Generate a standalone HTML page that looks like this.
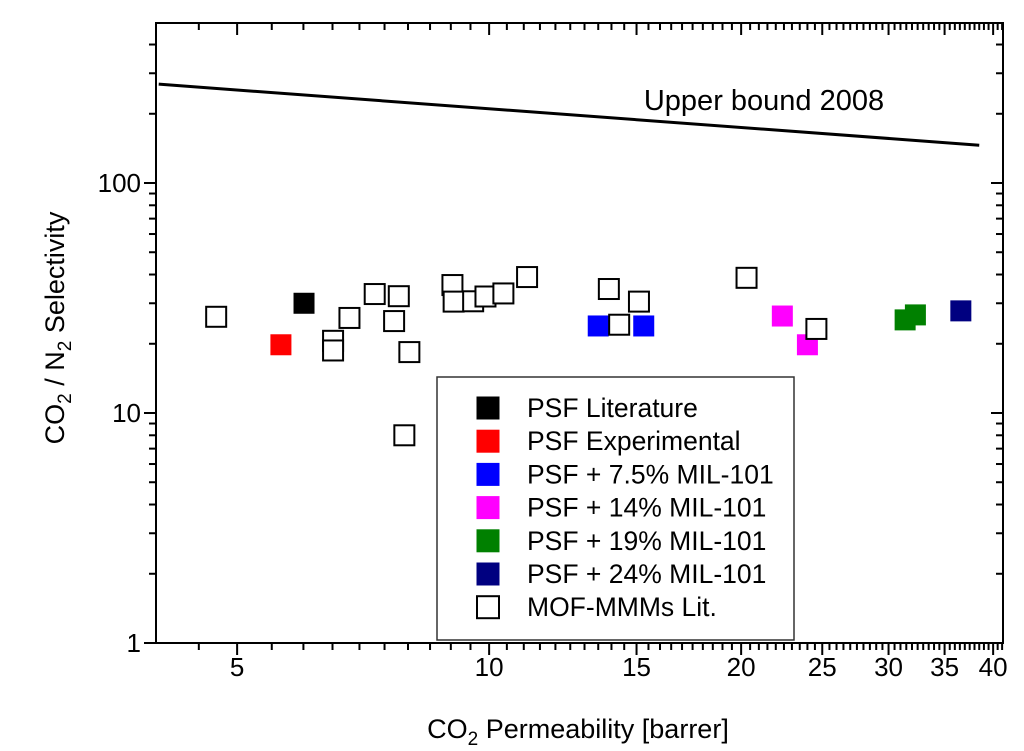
<!DOCTYPE html>
<html><head><meta charset="utf-8"><style>
html,body{margin:0;padding:0;background:#fff;}
svg{display:block;font-family:"Liberation Sans",Arial,sans-serif;}
</style></head><body>
<svg id="chart" width="1024" height="751" viewBox="0 0 1024 751"></svg>
<script>
const xTickLabels=[5,10,15,20,25,30,35,40];
const yTickLabels=[1,10,100];
const boundX=[4.03,38.5];
const boundY=[269,146];
const seriesNames=["PSF Literature","PSF Experimental","PSF + 7.5% MIL-101","PSF + 14% MIL-101","PSF + 19% MIL-101","PSF + 24% MIL-101","MOF-MMMs Lit."];
const seriesColors=["#000000","#ff0000","#0000ff","#ff00ff","#008000","#000080","none"];
const litX=[6.01];const litY=[30];
const expX=[5.64];const expY=[19.8];
const m75X=[13.5,15.3];const m75Y=[23.9,23.9];
const m14X=[22.4,24.0];const m14Y=[26.4,19.8];
const m19X=[31.4,32.3];const m19Y=[25.4,26.7];
const m24X=[36.6];const m24Y=[27.8];
const mofX=[4.72,6.51,6.51,6.81,7.3,7.7,7.8,8.03,7.92,9.04,9.07,9.57,9.9,10.4,11.1,13.9,14.3,15.1,20.3,24.6];
const mofY=[26.2,20.6,18.7,25.9,32.9,25.1,32.2,18.4,8.0,36.0,30.5,30.6,32.1,33.1,39.0,34.6,24.2,30.5,38.7,23.2];

const NS="http://www.w3.org/2000/svg";
const svg=document.getElementById('chart');
const L=156,R=1003,T=23,B=643;
const xmin=4,xmax=41.1,ymin=1,ymax=10**((643-23)/230);
function xs(v){return L+(Math.log10(v)-Math.log10(xmin))/(Math.log10(xmax)-Math.log10(xmin))*(R-L);}
function ys(v){return B-(Math.log10(v)-Math.log10(ymin))/(Math.log10(ymax)-Math.log10(ymin))*(B-T);}
function mk(tag,attrs,parent){const e=document.createElementNS(NS,tag);for(const k in attrs)e.setAttribute(k,attrs[k]);(parent||svg).appendChild(e);return e;}

const axes=mk('g',{});


const frame=mk('rect',{x:L,y:T,width:R-L,height:B-T,fill:'none',stroke:'#000','stroke-width':2},axes);



for(let v=4.5;v<=41;v+=0.5){
  const major=xTickLabels.includes(v);
  const x=xs(v);const len=major?12:7;
  mk('line',{x1:x,y1:B,x2:x,y2:B+len,stroke:'#000','stroke-width':2},axes);
  mk('line',{x1:x,y1:T,x2:x,y2:T+len,stroke:'#000','stroke-width':2},axes);
}
xTickLabels.forEach(v=>{
  const t=mk('text',{x:xs(v),y:B+33,'text-anchor':'middle','font-size':26},axes);
  t.textContent=v;
  
  
});
for(let d=1;d<=100;d*=10){
  for(let k=1;k<=9;k++){
    const v=d*k;if(v>ymax)break;
    const y=ys(v);const len=k===1?12:7;
    mk('line',{x1:L,y1:y,x2:L-len,y2:y,stroke:'#000','stroke-width':2},axes);
    mk('line',{x1:R,y1:y,x2:R-len,y2:y,stroke:'#000','stroke-width':2},axes);
  }
}
yTickLabels.forEach(v=>{
  const t=mk('text',{x:L-15,y:ys(v)+9,'text-anchor':'end','font-size':26},axes);
  t.textContent=v;
  
  
});
const xt=mk('text',{x:578,y:738,'text-anchor':'middle','font-size':27});
xt.innerHTML='CO<tspan font-size="19" dy="7">2</tspan><tspan dy="-7"> Permeability [barrer]</tspan>';


const yt=mk('text',{x:0,y:0,'text-anchor':'middle','font-size':27,transform:'translate(64,328) rotate(-90)'});
yt.innerHTML='CO<tspan font-size="19" dy="7">2</tspan><tspan dy="-7"> / N</tspan><tspan font-size="19" dy="7">2</tspan><tspan dy="-7"> Selectivity</tspan>';



const ub=mk('line',{x1:xs(boundX[0]),y1:ys(boundY[0]),x2:xs(boundX[1]),y2:ys(boundY[1]),stroke:'#000','stroke-width':3});


const ubt=mk('text',{x:764,y:110,'text-anchor':'middle','font-size':29});
ubt.textContent='Upper bound 2008';



const allX=[litX,expX,m75X,m14X,m19X,m24X,mofX];
const allY=[litY,expY,m75Y,m14Y,m19Y,m24Y,mofY];
const S=20;
allX.forEach((xsArr,si)=>{
  const g=mk('g',{});
  
  
  xsArr.forEach((xv,i)=>{
    const filled=seriesColors[si]!=='none';
    const r=mk('rect',{x:xs(xv)-S/2,y:ys(allY[si][i])-S/2,width:S,height:S,fill:filled?seriesColors[si]:'#fff',stroke:filled?seriesColors[si]:'#000','stroke-width':filled?1:2},g);
    
    
  });
});

const lg=mk('g',{});


mk('rect',{x:437,y:377,width:357,height:263,fill:'#fff',stroke:'#333','stroke-width':1.5},lg);
seriesNames.forEach((n,i)=>{
  const cy=408+i*33.2;
  const filled=seriesColors[i]!=='none';
  const sw=mk('rect',{x:477,y:cy-11,width:22,height:22,fill:filled?seriesColors[i]:'#fff',stroke:filled?seriesColors[i]:'#000','stroke-width':filled?1:2},lg);
  
  
  const t=mk('text',{x:527,y:cy+9,'font-size':26.5},lg);
  t.textContent=n;
  
  
});
</script>
</body></html>
